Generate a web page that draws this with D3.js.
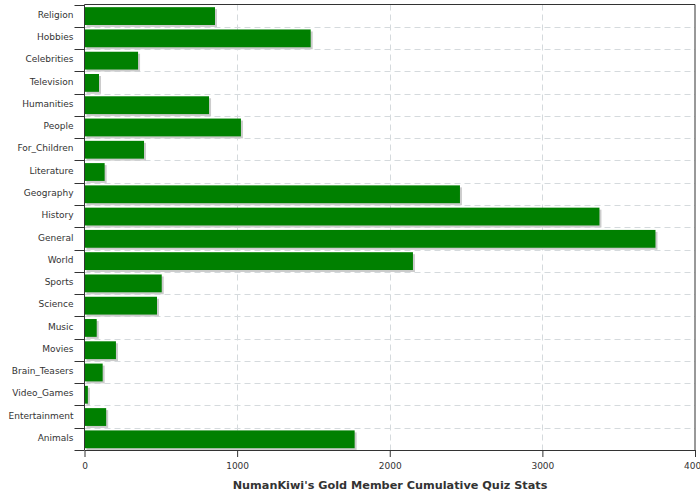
<!DOCTYPE html>
<html><head><meta charset="utf-8">
<script src="https://cdn.jsdelivr.net/npm/d3@7/dist/d3.min.js"></script>
<style>body{margin:0;background:#fff}svg{display:block}text{font-family:"DejaVu Sans",Verdana,sans-serif;fill:#333}</style>
</head><body><svg id="c" width="700" height="500"></svg>
<script>
const categories = ["Religion","Hobbies","Celebrities","Television","Humanities","People","For_Children","Literature","Geography","History","General","World","Sports","Science","Music","Movies","Brain_Teasers","Video_Games","Entertainment","Animals"];
const values = [855,1482,351,95,816,1025,390,132,2460,3374,3741,2152,506,475,80,206,119,22,142,1770];
const xTicks = [0,1000,2000,3000,4000];
const title = "NumanKiwi's Gold Member Cumulative Quiz Stats";

const svg = d3.select("#c");
const L = 84.5, R = 695, T = 4.5, B = 450;
const x = d3.scaleLinear().domain([0,4000]).range([L,R]);
const y = d3.scaleBand().domain(categories).range([T,B]).padding(0);
const step = y.step();

// grid
const g = svg.append("g");
g.selectAll("line.v").data(xTicks.slice(1,-1)).join("line")
  .attr("x1",d=>Math.round(x(d))+0.5).attr("x2",d=>Math.round(x(d))+0.5)
  .attr("y1",T).attr("y2",B)
  .attr("stroke","#d5dadd").attr("stroke-dasharray","6,4");
g.selectAll("line.h").data(categories.slice(1)).join("line")
  .attr("x1",L).attr("x2",R)
  .attr("y1",d=>Math.round(y(d))+0.5).attr("y2",d=>Math.round(y(d))+0.5)
  .attr("stroke","#d5dadd").attr("stroke-dasharray","6,4");

// shadows and bars
const data = categories.map((c,i)=>({c,v:values[i]}));
svg.append("g").selectAll("rect").data(data).join("rect")
  .attr("x",x(0)+2).attr("y",d=>y(d.c)+step*0.12+2)
  .attr("width",d=>x(d.v)-x(0)).attr("height",step*0.8)
  .attr("fill","#cccccc");
svg.append("g").selectAll("rect").data(data).join("rect")
  .attr("x",x(0)).attr("y",d=>y(d.c)+step*0.12)
  .attr("width",d=>x(d.v)-x(0)).attr("height",step*0.8)
  .attr("fill","#008000");

// frame top/right
svg.append("line").attr("x1",L).attr("x2",R).attr("y1",T).attr("y2",T).attr("stroke","#333");
svg.append("line").attr("x1",R).attr("x2",R).attr("y1",T).attr("y2",B).attr("stroke","#333");

// y axis
const ya = svg.append("g");
ya.append("line").attr("x1",L).attr("x2",L).attr("y1",T).attr("y2",B).attr("stroke","#333");
const bounds = categories.map(c=>y(c)).concat([B]);
ya.selectAll("line.t").data(bounds).join("line")
  .attr("x1",L-10).attr("x2",L).attr("y1",d=>Math.round(d)+0.5).attr("y2",d=>Math.round(d)+0.5)
  .attr("stroke","#333");
ya.selectAll("text").data(categories).join("text")
  .attr("x",L-11).attr("y",d=>y(d)+step/2-1).attr("dy","0.35em")
  .attr("text-anchor","end").attr("font-size",9).text(d=>d);

// x axis
const xa = svg.append("g").attr("transform",`translate(0,${B})`)
  .call(d3.axisBottom(x).tickValues(xTicks).tickFormat(d3.format("d")).tickSize(7).tickSizeOuter(0));
xa.select(".domain").attr("stroke","#333");
xa.selectAll(".tick line").attr("stroke","#333");
xa.selectAll(".tick text").attr("font-size",9).attr("font-family","DejaVu Sans").attr("fill","#333").attr("dy","1em");

svg.append("text").attr("x",390).attr("y",489).attr("text-anchor","middle")
  .attr("font-size",11.25).attr("font-weight","bold").text(title);
</script></body></html>
